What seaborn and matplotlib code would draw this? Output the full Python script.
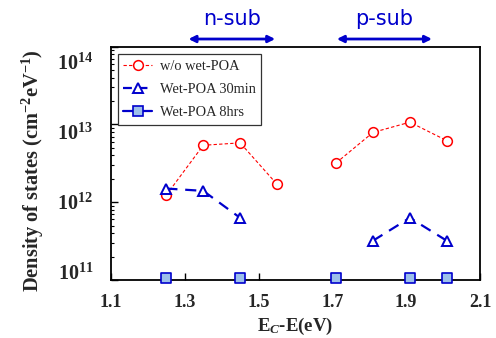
import matplotlib
matplotlib.use("Agg")
import numpy as np
import pandas as pd
import seaborn as sns
import matplotlib.pyplot as plt
from matplotlib.lines import Line2D
from matplotlib.ticker import FixedLocator, LogLocator, NullFormatter

# ---------------- data ----------------
energy_wo = [1.25, 1.35, 1.45, 1.55, 1.71, 1.81, 1.91, 2.01]
dos_wo = [1.24e12, 5.4e12, 5.8e12, 1.7e12, 3.2e12, 7.9e12, 1.07e13, 6.2e12]
group_wo = ["n", "n", "n", "n", "p", "p", "p", "p"]

energy_30 = [1.25, 1.35, 1.45, 1.81, 1.91, 2.01]
dos_30 = [1.5e12, 1.4e12, 6.3e11, 3.2e11, 6.3e11, 3.2e11]
group_30 = ["n", "n", "n", "p", "p", "p"]

energy_8h = [1.25, 1.45, 1.71, 1.91, 2.01]
dos_8h = [1.07e11, 1.07e11, 1.07e11, 1.07e11, 1.07e11]

series_names = ["w/o wet-POA", "Wet-POA 30min", "Wet-POA 8hrs"]
x_ticks = [1.1, 1.3, 1.5, 1.7, 1.9, 2.1]
x_ticklabels = ["1.1", "1.3", "1.5", "1.7", "1.9", "2.1"]
y_ticks = [1e11, 1e12, 1e13, 1e14]
y_ticklabels = [r"$\mathbf{10^{11}}$", r"$\mathbf{10^{12}}$",
                r"$\mathbf{10^{13}}$", r"$\mathbf{10^{14}}$"]
# baselines of the y tick labels as they sit in the original figure
y_label_baseline = [1.0e11, 7.9e11, 6.3e12, 5.0e13]
region_labels = ["n-sub", "p-sub"]
region_ranges = [(1.31, 1.545), (1.712, 1.97)]

df_wo = pd.DataFrame({"E": energy_wo, "D": dos_wo, "g": group_wo})
df_30 = pd.DataFrame({"E": energy_30, "D": dos_30, "g": group_30})
df_8h = pd.DataFrame({"E": energy_8h, "D": dos_8h})

# ---------------- style ----------------
sns.set_theme(style="ticks")
plt.rcParams["font.family"] = ["Liberation Serif", "DejaVu Serif"]
plt.rcParams["mathtext.fontset"] = "custom"
plt.rcParams["mathtext.rm"] = "Liberation Serif:bold"
plt.rcParams["mathtext.bf"] = "Liberation Serif:bold"
plt.rcParams["mathtext.it"] = "Liberation Serif:bold:italic"

RED = "#FF0000"
BLUE = "#0000CC"
SQFILL = "#9DC0EA"

fig = plt.figure(figsize=(4.96, 3.38), dpi=100)
ax = fig.add_axes([0.2238, 0.1716, 0.7439, 0.6902])

sns.lineplot(data=df_wo, x="E", y="D", units="g", estimator=None, ax=ax,
             color=RED, linewidth=0.8, linestyle=(0, (3, 2)),
             marker="o", markersize=7, markerfacecolor="white",
             markeredgecolor=RED, markeredgewidth=1.1, zorder=3)
sns.lineplot(data=df_30, x="E", y="D", units="g", estimator=None, ax=ax,
             color=BLUE, linewidth=1.6, linestyle=(0, (5, 3.5)),
             marker="^", markersize=7.5, markerfacecolor="white",
             markeredgecolor=BLUE, markeredgewidth=1.4, zorder=4)
sns.scatterplot(data=df_8h, x="E", y="D", ax=ax, marker="s", s=48,
                color=SQFILL, edgecolor=BLUE, linewidth=1.2, zorder=5,
                clip_on=False)

ax.set_yscale("log")
ax.set_xlim(1.1, 2.1)
ax.set_ylim(1e11, 1e14)

ax.xaxis.set_major_locator(FixedLocator(x_ticks))
ax.set_xticklabels(x_ticklabels)
ax.yaxis.set_major_locator(FixedLocator(y_ticks))
ax.yaxis.set_major_formatter(NullFormatter())
ax.yaxis.set_minor_locator(LogLocator(base=10, subs=np.arange(2, 10)))
ax.yaxis.set_minor_formatter(NullFormatter())

ax.tick_params(axis="both", which="major", direction="in", length=5,
               width=1, color="black")
ax.tick_params(axis="x", which="major", labelsize=13, pad=10)
ax.tick_params(axis="y", which="minor", direction="in", length=2.5,
               width=0.8, color="black")
ax.tick_params(axis="x", which="minor", bottom=False)
for lab in ax.get_xticklabels():
    lab.set_fontweight("bold")
for sp in ax.spines.values():
    sp.set_visible(True)
    sp.set_color("black")
    sp.set_linewidth(1.3)

ytrans = ax.get_yaxis_transform()
for lab, yb in zip(y_ticklabels, y_label_baseline):
    ax.text(-0.048, yb, lab, transform=ytrans, ha="right", va="baseline",
            fontsize=14.5)

ax.set_xlabel(r"E$_{\mathit{C}}$-E(eV)", fontsize=13.5, fontweight="bold",
              labelpad=3.5)
ax.set_ylabel(r"Density of states (cm$^{\mathbf{-2}}$eV$^{\mathbf{-1}}$)",
              fontsize=14.7, fontweight="bold", labelpad=0)
ax.yaxis.set_label_coords(-0.175, 0.47)

# region arrows and labels
for lab, (x0, x1) in zip(region_labels, region_ranges):
    ax.annotate("", xy=(x0, 1.033), xytext=(x1, 1.033),
                xycoords=("data", "axes fraction"),
                textcoords=("data", "axes fraction"),
                arrowprops=dict(arrowstyle="<|-|>", color=BLUE, lw=2,
                                mutation_scale=10, shrinkA=0, shrinkB=0),
                annotation_clip=False)
    ax.text((x0 + x1) / 2, 1.12, lab, transform=ax.get_xaxis_transform(),
            ha="center", va="center", color=BLUE, fontsize=15,
            family="DejaVu Sans")

handles = [
    Line2D([], [], color=RED, lw=0.8, linestyle=(0, (3, 2)), marker="o",
           markersize=7, markerfacecolor="white", markeredgecolor=RED,
           markeredgewidth=1.1),
    Line2D([], [], color=BLUE, lw=1.6, linestyle=(0, (4, 3)), marker="^",
           markersize=7, markerfacecolor="white", markeredgecolor=BLUE,
           markeredgewidth=1.4),
    Line2D([], [], color=BLUE, lw=1.6, linestyle="-", marker="s",
           markersize=7, markerfacecolor=SQFILL, markeredgecolor=BLUE,
           markeredgewidth=1.2),
]
leg = ax.legend(handles, series_names, loc="upper left",
                bbox_to_anchor=(0.018, 0.97), fontsize=10.4, frameon=True,
                fancybox=False, edgecolor="#333333", framealpha=1,
                handlelength=2.0, handletextpad=0.5, borderpad=0.4,
                labelspacing=0.7, borderaxespad=0)
leg.get_frame().set_linewidth(0.9)

fig.savefig("out.png", dpi=100)
